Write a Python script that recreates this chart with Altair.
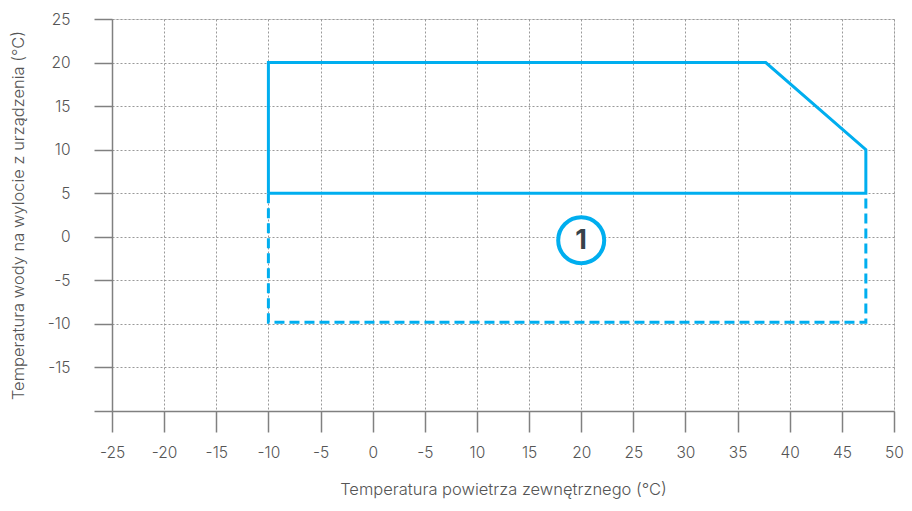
import altair as alt
import pandas as pd

# Data
solid_x = [-10, -10, 37.7, 47.3, 47.3, -10]
solid_y = [5, 20, 20, 10, 5, 5]
dashed_x = [-10, -10, 47.3, 47.3]
dashed_y = [5, -9.8, -9.8, 5]
marker_x = [20]
marker_y = [-0.4]
marker_text = ["1"]
x_ticks = list(range(-25, 55, 5))
y_ticks = list(range(-20, 30, 5))

solid_df = pd.DataFrame({"x": solid_x, "y": solid_y, "o": range(len(solid_x))})
dashed_df = pd.DataFrame({"x": dashed_x, "y": dashed_y, "o": range(len(dashed_x))})
marker_df = pd.DataFrame({"x": marker_x, "y": marker_y, "t": marker_text})

BLUE = "#00aeef"
GRAY = "#808080"
FONT = "Inter"

xscale = alt.Scale(domain=[-25, 50], nice=False, zero=False)
yscale = alt.Scale(domain=[-20, 25], nice=False, zero=False)

x_axis = alt.Axis(
    values=x_ticks,
    title="Temperatura powietrza zewnętrznego (°C)",
    labelExpr="datum.value == 5 ? '-5' : '' + datum.value",
    labelFlush=False, labelOverlap=False,
    tickSize=21, tickWidth=1.5, tickColor=GRAY,
    domainColor=GRAY, domainWidth=1.5,
    labelPadding=13, labelFontSize=15.5, labelColor="#555555", labelFont=FONT, labelFontWeight=300,
    titleFontSize=16.5, titleColor="#555555", titleFont=FONT, titleFontWeight=300,
    titlePadding=21,
    grid=True, gridDash=[2, 2], gridColor="#999999", gridWidth=1,
)
y_axis = alt.Axis(
    values=y_ticks,
    title="Temperatura wody na wylocie z urządzenia (°C)",
    labelExpr="datum.value == -20 ? '' : '' + datum.value",
    labelOverlap=False, labelFlush=False,
    tickSize=18, tickWidth=1.5, tickColor=GRAY,
    domainColor=GRAY, domainWidth=1.5,
    labelPadding=24, labelFontSize=15.5, labelColor="#555555", labelFont=FONT, labelFontWeight=300,
    titleFontSize=16.5, titleColor="#555555", titleFont=FONT, titleFontWeight=300,
    titlePadding=21,
    grid=True, gridDash=[2, 2], gridColor="#999999", gridWidth=1,
)

solid = alt.Chart(solid_df).mark_line(color=BLUE, strokeWidth=3).encode(
    x=alt.X("x:Q", scale=xscale, axis=x_axis),
    y=alt.Y("y:Q", scale=yscale, axis=y_axis),
    order="o:Q",
)
dashed = alt.Chart(dashed_df).mark_line(color=BLUE, strokeWidth=3, strokeDash=[10, 5]).encode(
    x=alt.X("x:Q", scale=xscale),
    y=alt.Y("y:Q", scale=yscale),
    order="o:Q",
)
circle = alt.Chart(marker_df).mark_point(
    shape="circle", size=2116, stroke=BLUE, strokeWidth=4, fill="white", filled=False, opacity=1
).encode(
    x=alt.X("x:Q", scale=xscale),
    y=alt.Y("y:Q", scale=yscale),
)
label = alt.Chart(marker_df).mark_text(
    fontSize=27, fontWeight="bold", color="#37424a", font=FONT, baseline="middle", align="center", dy=1
).encode(
    x=alt.X("x:Q", scale=xscale),
    y=alt.Y("y:Q", scale=yscale),
    text="t:N",
)

chart = (
    alt.layer(solid, dashed, circle, label)
    .properties(
        width=782, height=392,
        autosize=alt.AutoSizeParams(type="none"),
        padding={"left": 104, "top": 11, "right": 10, "bottom": 92},
    )
    .configure_view(stroke=None)
    .configure(background="white")
)

chart.save("out.html", embed_options={"renderer": "svg", "actions": False})
